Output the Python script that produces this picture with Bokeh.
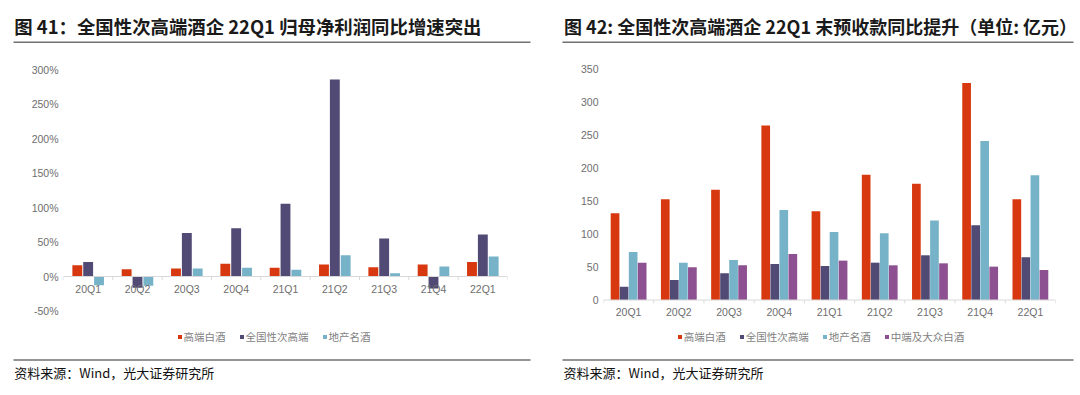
import numpy as np
from bokeh.plotting import figure
from bokeh.models import (Range1d, FixedTicker, PrintfTickFormatter, Legend, LegendItem,
                          Label, Span, ColumnDataSource)
from bokeh.layouts import row, column
from bokeh.embed import file_html
from bokeh.resources import INLINE
from bokeh.core.properties import value

# ---------------- data ----------------
categories = ["20Q1", "20Q2", "20Q3", "20Q4", "21Q1", "21Q2", "21Q3", "21Q4", "22Q1"]

# Figure 41: net profit attributable to parent, YoY (%)
left_title = "图 41：全国性次高端酒企 22Q1 归母净利润同比增速突出"
left_series = ["高端白酒", "全国性次高端", "地产名酒"]
profit_high_end = [16.5, 10.7, 11.6, 18.4, 12.6, 17.4, 13.6, 17.4, 21.0]
profit_national_sub = [21.0, -16.5, 63.0, 70.0, 105.6, 286.0, 55.0, -17.4, 61.0]
profit_local = [-12.6, -13.6, 11.6, 12.6, 9.7, 31.0, 4.8, 14.5, 29.0]
left_ticks = [-50, 0, 50, 100, 150, 200, 250, 300]

# Figure 42: advance receipts (100m CNY)
right_title = "图 42: 全国性次高端酒企 22Q1 末预收款同比提升（单位: 亿元）"
right_series = ["高端白酒", "全国性次高端", "地产名酒", "中端及大众白酒"]
adv_high_end = [131.5, 152.7, 167.0, 264.5, 134.6, 190.0, 176.0, 328.8, 152.7]
adv_national_sub = [20.0, 30.3, 40.5, 54.6, 51.6, 56.6, 67.8, 113.3, 64.7]
adv_local = [72.8, 56.6, 60.7, 136.5, 103.0, 101.0, 120.4, 240.8, 189.2]
adv_mass = [56.6, 49.6, 52.6, 69.8, 59.7, 52.6, 55.6, 50.6, 45.5]
right_ticks = [0, 50, 100, 150, 200, 250, 300, 350]

source_text = "资料来源：Wind，光大证券研究所"

# ---------------- style ----------------
RED = "#D7380F"
NAVY = "#504A74"
BLUE = "#77B3C8"
PURPLE = "#8D5191"
TICK_COLOR = "#6e6e6e"
RULE_COLOR = "#707070"
CJK = "Noto Sans CJK SC"
LATIN = "Liberation Sans"
W = 540
HEAD_H = 48
CHART_H = 304
FOOT_H = 43


def no_align(f):
    try:
        f.frame_align = False
    except Exception:
        pass
    return f


def blank(height):
    f = figure(width=W, height=height, x_range=Range1d(0, W), y_range=Range1d(height, 0),
               x_axis_location=None, y_axis_location=None,
               output_backend="svg", toolbar_location=None,
               min_border_left=0, min_border_right=0, min_border_top=0, min_border_bottom=0,
               outline_line_color=None, background_fill_color="white",
               border_fill_color="white")
    f.grid.grid_line_color = None
    return no_align(f)


def header(title, text_x, line_x0, line_x1, size):
    h = blank(HEAD_H)
    h.add_layout(Label(x=text_x, y=25.0, text=title, text_font=CJK,
                       text_font_style="bold", text_font_size=size,
                       text_color="#1a1a1a", text_align="left", text_baseline="middle"))
    h.line(x=[line_x0, line_x1], y=[41.7, 41.7], line_color=RULE_COLOR, line_width=1.6)
    return h


def footer(text_x, line_x0, line_x1):
    f = blank(FOOT_H)
    f.line(x=[line_x0, line_x1], y=[7.5, 7.5], line_color=RULE_COLOR, line_width=1.6)
    f.add_layout(Label(x=text_x, y=19.5, text=source_text, text_font=CJK,
                       text_font_size="13px", text_color="#111111",
                       text_align="left", text_baseline="middle"))
    return f


def make_chart(names, series, colors, offsets, bar_width, ticks, fmt,
               y_start, y_end, border_left, border_right, legend_x, tick_len):
    idx = np.arange(len(categories))
    p = figure(width=W, height=CHART_H,
               x_range=Range1d(-0.5, len(categories) - 0.5),
               y_range=Range1d(y_start, y_end),
               x_axis_location=None,
               output_backend="svg", toolbar_location=None,
               min_border_left=border_left, min_border_right=border_right,
               min_border_top=0, min_border_bottom=0,
               outline_line_color=None,
               background_fill_color="white", border_fill_color="white")
    p.grid.grid_line_color = None
    no_align(p)

    ax = p.yaxis[0]
    ax.ticker = FixedTicker(ticks=ticks)
    ax.formatter = PrintfTickFormatter(format=fmt)
    ax.axis_line_color = None
    ax.major_tick_line_color = None
    ax.minor_tick_line_color = None
    ax.major_tick_out = 0
    ax.major_tick_in = 0
    ax.major_label_standoff = 5
    ax.major_label_text_font = LATIN
    ax.major_label_text_font_size = "10.5px"
    ax.major_label_text_color = TICK_COLOR

    # baseline + boundary ticks
    p.add_layout(Span(location=0, dimension="width", line_color="#d9d9d9", line_width=1))
    bounds = np.arange(len(categories) + 1) - 0.5
    p.segment(x0=bounds, x1=bounds, y0=[0] * len(bounds), y1=[-tick_len] * len(bounds),
              line_color="#d9d9d9", line_width=1)

    items = []
    for name, vals, col, off in zip(names, series, colors, offsets):
        src = ColumnDataSource(dict(x=idx + off, top=vals))
        r = p.vbar(x="x", top="top", bottom=0, width=bar_width, source=src,
                   fill_color=col, line_color=None)
        items.append(LegendItem(label=name, renderers=[r]))

    p.text(x=idx, y=[0] * len(categories), text=categories,
           text_align="center", text_baseline="middle", y_offset=12,
           text_font=value(LATIN), text_font_size=value("10.5px"),
           text_color=TICK_COLOR)

    legend = Legend(items=items, orientation="horizontal",
                    location=(legend_x, 8.5), padding=0, margin=0,
                    spacing=13, glyph_width=5, glyph_height=5,
                    label_standoff=2, label_height=12,
                    label_text_font=CJK, label_text_font_size="10.5px",
                    label_text_color="#7f7f7f",
                    background_fill_alpha=0, border_line_color=None)
    p.add_layout(legend)
    return p


p1 = make_chart(left_series,
                [profit_high_end, profit_national_sub, profit_local],
                [RED, NAVY, BLUE], [-0.22, 0.0, 0.22], 0.2,
                left_ticks, "%d%%", -110.3, 330.9, 63, 33, 113.5, 5)

p2 = make_chart(right_series,
                [adv_high_end, adv_national_sub, adv_local, adv_mass],
                [RED, NAVY, BLUE, PURPLE], [-0.27, -0.09, 0.09, 0.27], 0.173,
                right_ticks, "%d", -79.5, 381.1, 63, 25, 73.7, 5)

col1 = column(header(left_title, 13.8, 13, 530, "18.4px"), p1, footer(13.8, 13, 530))
col2 = column(header(right_title, 23.5, 22, 533, "18px"), p2, footer(23.0, 22, 533))
layout = row(col1, col2)
open("out.html", "w", encoding="utf-8").write(file_html(layout, INLINE))
